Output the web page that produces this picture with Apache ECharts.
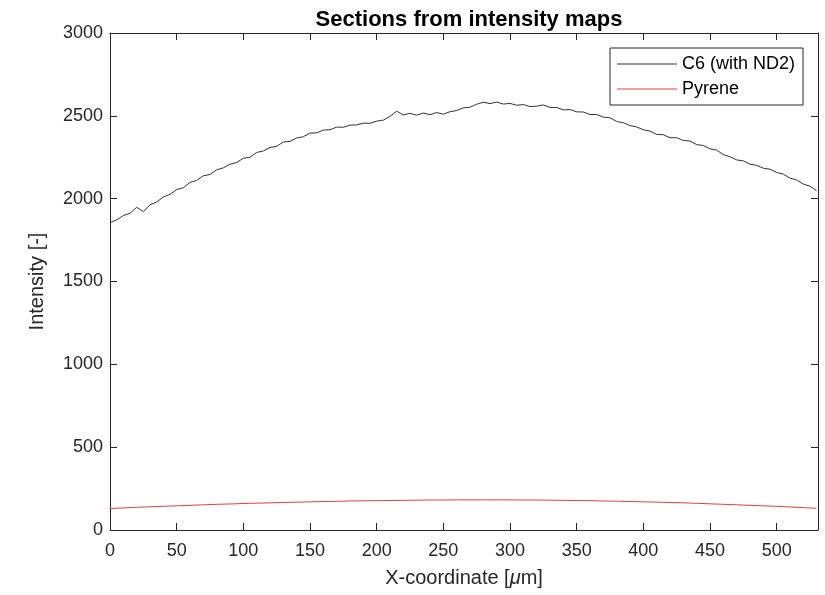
<!DOCTYPE html>
<html>
<head>
<meta charset="utf-8">
<script src="https://cdn.jsdelivr.net/npm/echarts@6/dist/echarts.min.js"></script>
<style>
  html, body { margin: 0; padding: 0; background: #fff; }
  #chart { width: 825px; height: 595px; }
</style>
</head>
<body>
<div id="chart"></div>
<script>
// Section profiles through the intensity maps, x in micrometres
const c6X = [];
for (let x = 0; x <= 530; x += 5) c6X.push(x);
const c6Intensity = [
  1855, 1872, 1898, 1912, 1948, 1922, 1963, 1980, 2010, 2026,
  2055, 2066, 2098, 2110, 2138, 2146, 2174, 2186, 2208, 2218,
  2244, 2250, 2279, 2288, 2309, 2316, 2342, 2346, 2366, 2374,
  2396, 2397, 2414, 2416, 2432, 2431, 2444, 2445, 2456, 2455,
  2468, 2474, 2497, 2528, 2506, 2515, 2504, 2517, 2507, 2520,
  2510, 2525, 2532, 2548, 2552, 2570, 2582, 2574, 2583, 2571,
  2575, 2564, 2568, 2556, 2558, 2566, 2551, 2550, 2536, 2538,
  2524, 2523, 2508, 2508, 2492, 2488, 2466, 2458, 2441, 2433,
  2416, 2408, 2388, 2386, 2368, 2368, 2351, 2348, 2326, 2321,
  2301, 2293, 2266, 2253, 2234, 2228, 2208, 2201, 2184, 2178,
  2158, 2148, 2124, 2113, 2088, 2075, 2048
];

const pyreneX = [];
for (let x = 0; x <= 530; x += 10) pyreneX.push(x);
const pyreneIntensity = [
  130, 133, 137, 140, 143, 146, 149, 152, 155, 157,
  160, 162, 164, 166, 168, 170, 172, 173, 175, 176,
  177, 178, 179, 180, 181, 181, 182, 182, 182, 182,
  182, 181, 181, 180, 179, 178, 177, 175, 174, 172,
  170, 168, 166, 164, 161, 158, 155, 152, 149, 146,
  143, 139, 135, 131
];

const xRange = [0, 531];
const yRange = [0, 3000];

const axisColor = '#262626';
const font = 'Liberation Sans, Arial, Helvetica, sans-serif';

function pairs(xs, ys) { return xs.map((x, i) => [x, ys[i]]); }

const chart = echarts.init(document.getElementById('chart'), null, { renderer: 'canvas' });

const tickStyle = { show: true, inside: true, length: 7, lineStyle: { color: axisColor, width: 1 } };
const lineStyleAxis = { show: true, onZero: false, lineStyle: { color: axisColor, width: 1 } };

const baseX = {
  type: 'value', min: xRange[0], max: xRange[1], interval: 50,
  axisLine: lineStyleAxis, axisTick: tickStyle, splitLine: { show: false }
};
const baseY = {
  type: 'value', min: yRange[0], max: yRange[1], interval: 500,
  axisLine: lineStyleAxis, axisTick: tickStyle, splitLine: { show: false }
};

chart.setOption({
  animation: false,
  backgroundColor: '#ffffff',
  title: {
    text: 'Sections from intensity maps',
    left: 464, top: 4, textAlign: 'center',
    textStyle: { fontFamily: font, fontSize: 22, fontWeight: 'bold', color: '#000' }
  },
  legend: {
    left: 610, top: 48,
    orient: 'vertical',
    backgroundColor: '#fff',
    borderColor: axisColor, borderWidth: 1,
    padding: [6, 8, 6, 7],
    itemGap: 5,
    itemWidth: 60, itemHeight: 1,
    icon: 'rect',
    textStyle: { fontFamily: font, fontSize: 18, color: '#000', lineHeight: 20 },
    data: ['C6 (with ND2)', 'Pyrene']
  },
  grid: { left: 110, right: 7, top: 33, bottom: 65, outerBoundsMode: 'none' },
  xAxis: [
    Object.assign({}, baseX, {
      position: 'bottom',
      name: '{t|X-coordinate [}{m|μ}{t|m]}',
      nameLocation: 'middle', nameGap: 38,
      nameTextStyle: {
        rich: {
          t: { fontFamily: font, fontSize: 20, color: axisColor },
          m: { fontFamily: font, fontSize: 20, fontStyle: 'italic', color: axisColor }
        }
      },
      axisLabel: {
        fontFamily: font, fontSize: 18, color: axisColor, margin: 12,
        showMaxLabel: false, formatter: v => String(v)
      }
    }),
    Object.assign({}, baseX, { position: 'top', axisLabel: { show: false } })
  ],
  yAxis: [
    Object.assign({}, baseY, {
      position: 'left',
      name: 'Intensity [-]',
      nameLocation: 'middle', nameGap: 63, nameRotate: 90,
      nameTextStyle: { fontFamily: font, fontSize: 20, color: axisColor },
      axisLabel: { fontFamily: font, fontSize: 18, color: axisColor, margin: 7, formatter: v => String(v) }
    }),
    Object.assign({}, baseY, { position: 'right', axisLabel: { show: false } })
  ],
  series: [
    {
      name: 'C6 (with ND2)', type: 'line', symbol: 'none',
      xAxisIndex: 0, yAxisIndex: 0,
      data: pairs(c6X, c6Intensity),
      lineStyle: { color: '#333333', width: 1 },
      itemStyle: { color: '#333333' }
    },
    {
      name: 'Pyrene', type: 'line', symbol: 'none',
      xAxisIndex: 0, yAxisIndex: 0,
      data: pairs(pyreneX, pyreneIntensity),
      lineStyle: { color: '#e0403a', width: 1 },
      itemStyle: { color: '#e0403a' }
    }
  ]
});
</script>
</body>
</html>
